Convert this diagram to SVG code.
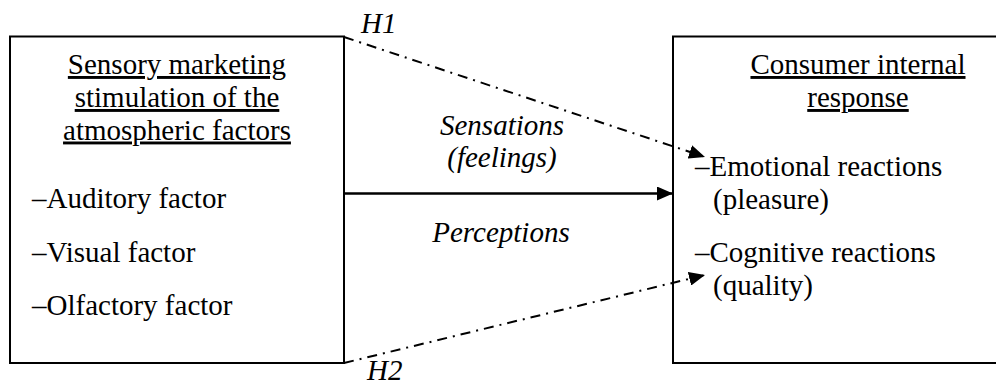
<svg xmlns="http://www.w3.org/2000/svg" width="996" height="387" viewBox="0 0 996 387">
<style>
  .box { fill: #fff; stroke: #000; stroke-width: 2; }
  text { font-family: 'Liberation Serif', 'Times New Roman', Times, 'DejaVu Serif', serif; font-size: 29px; fill: #000; }
  .i { font-style: italic; }
  .u { text-decoration: underline; }
  .solid { stroke: #000; stroke-width: 2.5; fill: none; }
  .dash { stroke: #000; stroke-width: 2; fill: none; stroke-dasharray: 10 6 2 6; }
</style>
<defs>
  <marker id="arr" markerUnits="userSpaceOnUse" markerWidth="16" markerHeight="14" refX="16" refY="7" orient="auto">
    <path d="M0,0 L16,7 L0,14 Z" fill="#000"/>
  </marker>
</defs>
<rect width="996" height="387" fill="#fff"/>
<g id="left-node">
  <rect class="box" x="10" y="36.5" width="334" height="326.5"/>
  <text class="u" x="177" y="74" text-anchor="middle">Sensory marketing</text>
  <text class="u" x="177" y="107" text-anchor="middle">stimulation of the</text>
  <text class="u" x="177" y="139.5" text-anchor="middle">atmospheric factors</text>
  <text x="32" y="208">–Auditory factor</text>
  <text x="32" y="261.5">–Visual factor</text>
  <text x="32" y="315">–Olfactory factor</text>
</g>
<g id="right-node">
  <rect class="box" x="673" y="36.5" width="372" height="326.5"/>
  <text class="u" x="858" y="74" text-anchor="middle">Consumer internal</text>
  <text class="u" x="858" y="107" text-anchor="middle">response</text>
  <text x="695" y="175.5">–Emotional reactions</text>
  <text x="713" y="208.5">(pleasure)</text>
  <text x="695" y="261.5">–Cognitive reactions</text>
  <text x="713" y="295">(quality)</text>
</g>
<g id="connectors">
  <line class="solid" x1="344" y1="193.5" x2="673" y2="193.5" marker-end="url(#arr)"/>
  <line class="dash" x1="344" y1="37" x2="705" y2="157" marker-end="url(#arr)"/>
  <line class="dash" x1="344" y1="363" x2="705" y2="275" marker-end="url(#arr)"/>
  <text class="i" x="502" y="134.5" text-anchor="middle">Sensations</text>
  <text class="i" x="502" y="166.5" text-anchor="middle">(feelings)</text>
  <text class="i" x="501" y="241.5" text-anchor="middle">Perceptions</text>
  <text class="i" x="361" y="33">H1</text>
  <text class="i" x="367" y="380">H2</text>
</g>
</svg>
